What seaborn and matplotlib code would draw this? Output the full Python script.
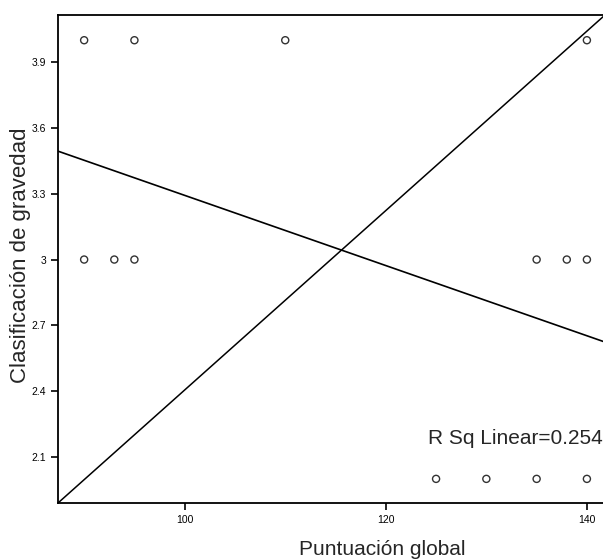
import numpy as np
import pandas as pd
import seaborn as sns
import matplotlib.pyplot as plt

# puntos
puntuacion = [90, 95, 110, 140, 90, 93, 95, 135, 138, 140, 125, 130, 135, 140]
gravedad = [4, 4, 4, 4, 3, 3, 3, 3, 3, 3, 2, 2, 2, 2]
x_ticks = [100, 120, 140]
y_ticks = [2.1, 2.4, 2.7, 3.0, 3.3, 3.6, 3.9]
y_ticklabels = ['2.1', '2.4', '2.7', '3', '3.3', '3.6', '3.9']
xlim = (87.4, 141.8)
ylim = (1.89, 4.115)
r2_text = 'R Sq Linear=0.254'

sns.set_style('ticks')
plt.rcParams['font.family'] = ['Liberation Sans', 'DejaVu Sans']

df = pd.DataFrame({'Puntuación global': puntuacion, 'Clasificación de gravedad': gravedad})

fig = plt.figure(figsize=(6.03, 5.6), dpi=100)
ax = fig.add_axes([58/603, 1-503/560, 547/603, 488/560])
ax.set_xlim(xlim)
ax.set_ylim(ylim)

# linea de referencia esquina a esquina
ax.plot([xlim[0], xlim[1]], [ylim[0], ylim[1]], color='black', lw=1.1)

sns.regplot(data=df, x='Puntuación global', y='Clasificación de gravedad', ax=ax,
            ci=None, truncate=False,
            scatter_kws={'s': 26, 'facecolors': 'none', 'edgecolors': 'black', 'linewidths': 1.0},
            line_kws={'color': 'black', 'lw': 1.2})
ax.set_xlim(xlim)
ax.set_ylim(ylim)

ax.set_xticks(x_ticks)
ax.set_xticklabels([str(t) for t in x_ticks], fontsize=7.5)
ax.set_yticks(y_ticks)
ax.set_yticklabels(y_ticklabels, fontsize=7.5)
ax.tick_params(direction='out', length=5, width=1.2, colors='black')
ax.set_xlabel('Puntuación global', fontsize=15, va='center')
ax.set_ylabel('Clasificación de gravedad', fontsize=16, va='center')
ax.xaxis.set_label_coords(0.592, -0.096)
ax.yaxis.set_label_coords(-0.069, 0.508)
for s in ['left', 'bottom', 'top']:
    ax.spines[s].set_visible(True)
    ax.spines[s].set_linewidth(1.3)
    ax.spines[s].set_color('black')
ax.spines['right'].set_visible(False)

ax.text(0.676, 0.133, r2_text, transform=ax.transAxes, fontsize=15, ha='left', va='center')

fig.savefig('out.png', dpi=100)
